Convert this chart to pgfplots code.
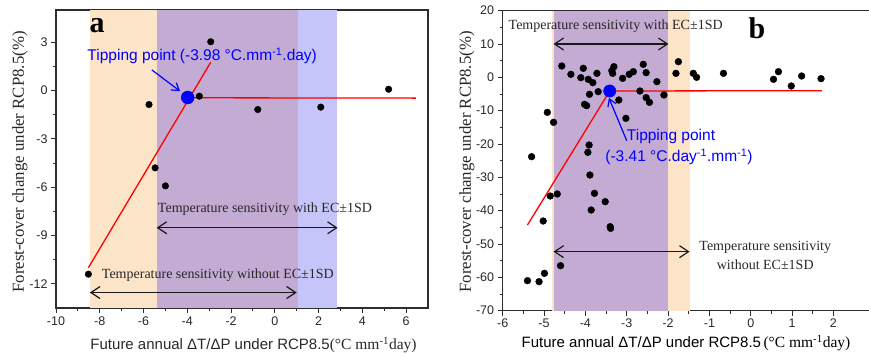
\documentclass[border=0pt]{standalone}
\usepackage{fontspec}
\setmainfont{Liberation Serif}
\setsansfont{Liberation Sans}
\newfontfamily\arial{Liberation Sans}
\usepackage{pgfplots}
\pgfplotsset{compat=1.18}
\usetikzlibrary{arrows.meta}

\definecolor{bandorange}{RGB}{252,228,200}
\definecolor{bandpurple}{RGB}{195,171,212}
\definecolor{bandblue}{RGB}{197,197,250}
\definecolor{txtgray}{RGB}{40,40,40}
\definecolor{axgray}{RGB}{45,45,45}

\tikzset{
  anno/.style={font=\fontsize{14}{16}\selectfont, text=txtgray, inner sep=0pt},
  tipfont/.style={font=\arial\fontsize{15.5}{17}\selectfont, text=blue, inner sep=0pt},
  dblarrow/.style={line width=1.2pt, black!90, {Straight Barb[length=9pt,width=12pt]}-{Straight Barb[length=9pt,width=12pt]}},
}
\pgfplotsset{
  common/.style={
    scale only axis,
    anchor=south west,
    axis line style={line width=1.1pt, draw=axgray},
    tick align=outside,
    tick pos=left,
    major tick length=5pt,
    minor tick length=3pt,
    every tick/.style={axgray, line width=0.9pt},
    ticklabel style={font=\arial\fontsize{12.5}{14}\selectfont, text=txtgray},
    /pgf/number format/assume math mode=true,
    xlabel style={anchor=center, text=txtgray},
    ylabel style={anchor=center, text=txtgray, font=\fontsize{16.8}{19}\selectfont},
  },
}

\begin{document}
\begin{tikzpicture}[x=1pt,y=1pt]
\useasboundingbox (0,0) rectangle (869,358);

% ---------------- Panel a ----------------
\begin{axis}[common,
  at={(56pt,50pt)}, width=372pt, height=298pt,
  xmin=-10, xmax=7, ymin=-13.5, ymax=5,
  xtick={-10,-8,...,6}, ytick={-12,-9,...,3},
  minor x tick num=1, minor y tick num=1,
  xlabel={{\arial\fontsize{15}{18}\selectfont Future annual ΔT/ΔP under RCP8.5}{\fontsize{15.5}{18}\selectfont(°C mm\textsuperscript{-1}day)}},
  xlabel style={at={(axis description cs:0.531,-0.124)}, anchor=center},
  ylabel={Forest-cover change under RCP8.5(\%)},
  ylabel style={at={(axis description cs:-0.097,0.49)}, anchor=center},
]
% bands
\addplot[draw=none, fill=bandorange] coordinates {(-8.45,-13.5) (-8.45,5) (-5.4,5) (-5.4,-13.5)} -- cycle;
\addplot[draw=none, fill=bandpurple] coordinates {(-5.4,-13.5) (-5.4,5) (1.04,5) (1.04,-13.5)} -- cycle;
\addplot[draw=none, fill=bandblue] coordinates {(1.04,-13.5) (1.04,5) (2.84,5) (2.84,-13.5)} -- cycle;
% fitted lines
\addplot[red, line width=1.3pt] coordinates {(-8.52,-11.0) (-2.93,1.75)};
\addplot[red, line width=1.3pt] coordinates {(-3.98,-0.45) (6.45,-0.47)};
% data
\addplot[only marks, mark=*, mark size=3.3pt, black] coordinates {
(-8.52,-11.4) (-5.75,-0.87) (-5.47,-4.8) (-5.0,-5.92) (-3.45,-0.35)
(-2.93,3.03) (-0.78,-1.18) (2.1,-1.03) (5.2,0.08)};
% tipping point
\addplot[only marks, mark=*, mark size=6.5pt, blue] coordinates {(-3.98,-0.43)};
\addplot[blue, line width=1.2pt, -{Straight Barb[length=7pt,width=9pt]}] coordinates {(-5.62,1.28) (-4.33,-0.04)};
% arrows
\addplot[dblarrow] coordinates {(-5.4,-8.52) (2.87,-8.52)};
\addplot[dblarrow] coordinates {(-8.45,-12.54) (1.0,-12.54)};
\node[anno, anchor=west] at (axis cs:-5.35,-7.36) {Temperature sensitivity with EC±1SD};
\node[anno, anchor=west] at (axis cs:-7.91,-11.44) {Temperature sensitivity without EC±1SD};
\node[tipfont, anchor=west] at (axis cs:-8.57,2.16) {Tipping point (-3.98 °C.mm\textsuperscript{-1}.day)};
\node[font=\bfseries\fontsize{30}{32}\selectfont, inner sep=0pt] at (axis cs:-8.12,4.0) {a};
\end{axis}

% ---------------- Panel b ----------------
\begin{axis}[common,
  at={(502.67pt,47.33pt)}, width=366.33pt, height=300pt,
  axis x line=box, axis y line=left,
  x axis line style={-}, y axis line style={-},
  xtick pos=lower, ytick pos=left,
  tick align=outside,
  xmin=-6, xmax=2.86, ymin=-70, ymax=20,
  xtick={-6,-5,...,2}, ytick={-70,-60,...,20},
  minor x tick num=1, minor y tick num=1,
  xlabel={{\arial\fontsize{15}{18}\selectfont Future annual ΔT/ΔP under RCP8.5} {\fontsize{15.5}{18}\selectfont(°C mm\textsuperscript{-1}day)}},
  xlabel style={at={(axis description cs:0.5005,-0.108)}, anchor=center},
  ylabel={Forest-cover change under RCP8.5(\%)},
  ylabel style={at={(axis description cs:-0.098,0.496)}, anchor=center},
]
\addplot[draw=none, fill=bandorange] coordinates {(-4.8,-70) (-4.8,20) (-1.47,20) (-1.47,-70)} -- cycle;
\addplot[draw=none, fill=bandpurple] coordinates {(-4.77,-70) (-4.77,20) (-1.99,20) (-1.99,-70)} -- cycle;
% fitted lines
\addplot[red, line width=1.3pt] coordinates {(-5.40,-44.3) (-3.41,-4.1)};
\addplot[red, line width=1.3pt] coordinates {(-3.41,-4.1) (1.72,-4.0)};
% data
\addplot[only marks, mark=*, mark size=3.4pt, black] coordinates {
(-4.57,3.4) (-4.35,0.9) (-4.05,2.7) (-4.11,-0.1) (-3.93,-0.6) (-3.82,-1.6)
(-3.72,1.2) (-3.90,-5.1) (-4.02,-8.1) (-3.97,-8.5) (-3.69,-4.3)
(-3.36,2.0) (-3.31,3.2) (-3.34,1.2) (-3.19,-6.8) (-3.10,-0.3)
(-2.94,0.9) (-2.84,1.7) (-2.60,3.9) (-2.53,1.4) (-2.27,-1.3)
(-2.68,-4.1) (-2.53,-6.1) (-2.45,-7.5) (-2.10,-5.3) (-3.02,-12.3)
(-1.81,1.2) (-1.75,4.7) (-4.92,-10.5) (-4.77,-13.5)
(-3.91,-20.3) (-3.94,-22.5) (-3.89,-29.3) (-3.78,-34.8) (-3.52,-37.3)
(-3.86,-39.8) (-3.40,-44.8) (-3.39,-45.3) (-4.85,-35.6) (-4.68,-35.0)
(-5.02,-43.1) (-5.30,-23.8) (-4.60,-56.5) (-4.99,-58.8) (-5.12,-61.3)
(-5.40,-61.0)
(-1.39,1.2) (-1.31,0.0) (-0.66,1.2) (0.55,-0.6) (0.67,1.7) (0.98,-2.6)
(1.23,0.4) (1.70,-0.4)};
% tipping point
\addplot[only marks, mark=*, mark size=6.2pt, blue] coordinates {(-3.41,-4.1)};
\addplot[blue, line width=1.2pt, -{Straight Barb[length=7pt,width=9pt]}] coordinates {(-3.0,-19.0) (-3.43,-6.2)};
% arrows
\addplot[dblarrow] coordinates {(-4.77,10) (-1.99,10)};
\addplot[dblarrow] coordinates {(-4.77,-52.3) (-1.48,-52.3)};
\node[anno, anchor=west] at (axis cs:-5.86,15.4) {Temperature sensitivity with EC±1SD};
\node[anno] at (axis cs:0.35,-51.0) {Temperature sensitivity};
\node[anno] at (axis cs:0.35,-56.1) {without EC±1SD};
\node[tipfont, anchor=west] at (axis cs:-3.0,-17.8) {Tipping point};
\node[tipfont, anchor=west] at (axis cs:-3.52,-23.8) {(-3.41 °C.day\textsuperscript{-1}.mm\textsuperscript{-1})};
\node[font=\bfseries\fontsize{30}{32}\selectfont, inner sep=0pt] at (axis cs:0.15,14.7) {b};
\end{axis}
\end{tikzpicture}
\end{document}
